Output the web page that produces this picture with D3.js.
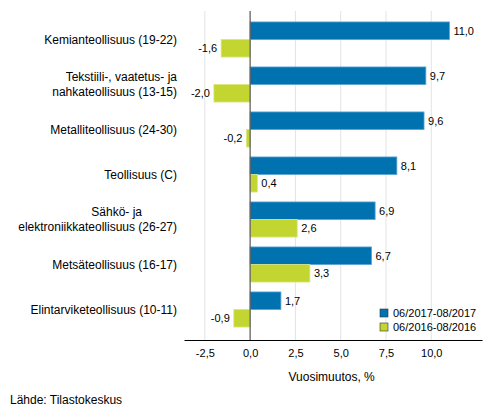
<!DOCTYPE html>
<html lang="fi">
<head>
<meta charset="UTF-8">
<script src="https://cdn.jsdelivr.net/npm/d3@7"></script>
<style>
  body { margin: 0; background: #fff; font-family: "Liberation Sans", Arial, sans-serif; }
  svg text { fill: #000; }
</style>
</head>
<body>
<svg id="chart" width="493" height="416"></svg>
<script>
// data
const categories = [
    ["Kemianteollisuus (19-22)"],
    ["Tekstiili-, vaatetus- ja", "nahkateollisuus (13-15)"],
    ["Metalliteollisuus (24-30)"],
    ["Teollisuus (C)"],
    ["Sähkö- ja", "elektroniikkateollisuus (26-27)"],
    ["Metsäteollisuus (16-17)"],
    ["Elintarviketeollisuus (10-11)"]
];
const series2017 = [11.0, 9.7, 9.6, 8.1, 6.9, 6.7, 1.7];
const series2016 = [-1.6, -2.0, -0.2, 0.4, 2.6, 3.3, -0.9];
const seriesNames = ["06/2017-08/2017", "06/2016-08/2016"];
const xTicks = [-2.5, 0, 2.5, 5, 7.5, 10];

const colors = ["#0072b0", "#c2d530"];
const strokes = ["#5aa3d3", "#dbe77f"];

const svg = d3.select("#chart");
const fmt = v => d3.format(".1f")(v).replace(".", ",").replace("−", "-");

const x = d3.scaleLinear().domain([-3.65, 12.8]).range([184, 482]);
const y = d3.scaleBand().domain(d3.range(categories.length))
    .range([17, 332]).paddingInner(0.22).paddingOuter(0.11);
const sub = d3.scaleBand().domain([0, 1]).range([0, y.bandwidth()]);

const plotTop = 11, plotBottom = 340;

// grid
svg.append("g").selectAll("line").data(xTicks.filter(t => t !== 0)).join("line")
    .attr("x1", d => x(d)).attr("x2", d => x(d))
    .attr("y1", plotTop).attr("y2", plotBottom)
    .attr("stroke", "#e3e3e3").attr("stroke-width", 1);

// bars
const rows = categories.map((c, i) => [series2017[i], series2016[i]]);
const groups = svg.append("g").selectAll("g").data(rows).join("g")
    .attr("transform", (d, i) => `translate(0,${y(i)})`);

groups.selectAll("rect").data(d => d).join("rect")
    .attr("x", d => x(Math.min(0, d)))
    .attr("width", d => Math.abs(x(d) - x(0)))
    .attr("y", (d, j) => sub(j))
    .attr("height", sub.bandwidth())
    .attr("fill", (d, j) => colors[j])
    .attr("stroke", (d, j) => strokes[j])
    .attr("stroke-width", 0.8);

groups.selectAll("text").data(d => d).join("text")
    .attr("x", d => d >= 0 ? x(d) + 4 : x(d) - 4)
    .attr("y", (d, j) => sub(j) + sub.bandwidth() / 2)
    .attr("dy", "0.35em")
    .attr("text-anchor", d => d >= 0 ? "start" : "end")
    .attr("font-size", 11)
    .text(d => fmt(d));

// zero line
svg.append("line")
    .attr("x1", x(0)).attr("x2", x(0)).attr("y1", plotTop).attr("y2", plotBottom)
    .attr("stroke", "#555").attr("stroke-width", 1.2);

// category labels
const lab = svg.append("g").selectAll("text").data(categories).join("text")
    .attr("text-anchor", "end")
    .attr("font-size", 12)
    .attr("transform", (d, i) => `translate(177,${y(i) + y.bandwidth() / 2})`);
lab.selectAll("tspan").data(d => d.map((t, k) => ({t, k, n: d.length}))).join("tspan")
    .attr("x", d => (d.n > 1 && d.k === 0 && d.t.length < 12) ? -35 : 0)
    .attr("y", d => (d.k - (d.n - 1) / 2) * 15)
    .attr("dy", "0.35em")
    .text(d => d.t);

// x axis
const axis = svg.append("g").attr("transform", `translate(0,${plotBottom})`)
    .call(d3.axisBottom(x).tickValues(xTicks).tickSize(0).tickPadding(9).tickFormat(fmt));
axis.select(".domain").attr("stroke", "#000").attr("stroke-width", 1.2);
axis.selectAll("text").attr("font-size", 11).attr("font-family", "Liberation Sans, Arial, sans-serif").attr("fill", "#000");

svg.append("text")
    .attr("x", x(4.5)).attr("y", 381)
    .attr("text-anchor", "middle").attr("font-size", 12)
    .text("Vuosimuutos, %");

// legend
const leg = svg.append("g").selectAll("g").data(seriesNames).join("g")
    .attr("transform", (d, i) => `translate(380,${309 + i * 14})`);
leg.append("rect").attr("width", 8).attr("height", 8)
    .attr("fill", (d, i) => colors[i]).attr("stroke", "#333").attr("stroke-width", 0.6);
leg.append("text").attr("x", 13).attr("y", 4).attr("dy", "0.35em")
    .attr("font-size", 11).text(d => d);

svg.append("text")
    .attr("x", 10).attr("y", 404).attr("font-size", 12)
    .text("Lähde: Tilastokeskus");
</script>
</body>
</html>
